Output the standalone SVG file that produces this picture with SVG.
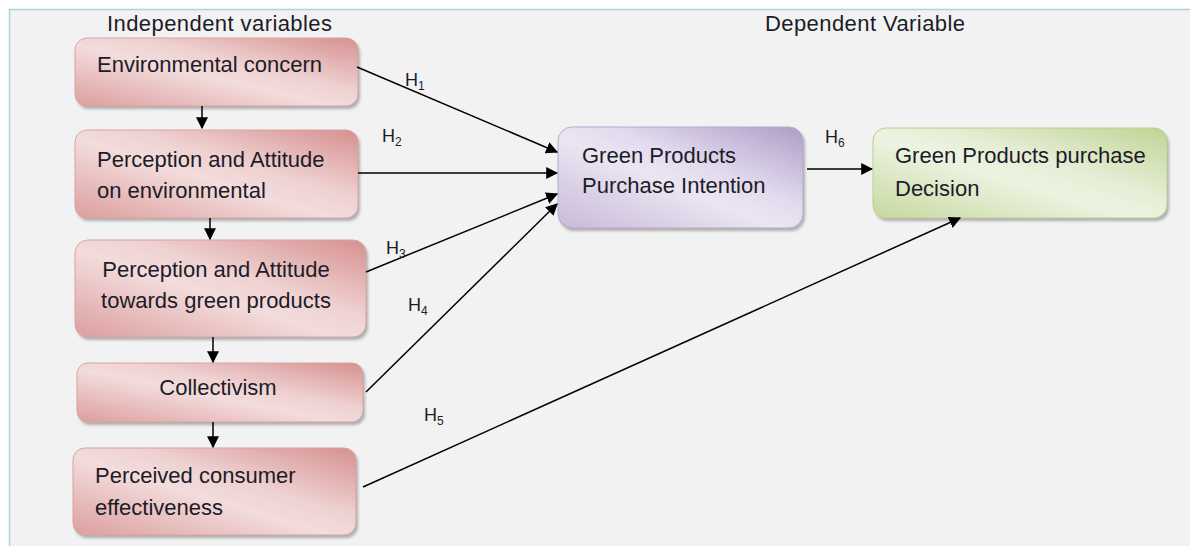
<svg xmlns="http://www.w3.org/2000/svg" width="1190" height="546" viewBox="0 0 1190 546">
<style>
text{font-family:"Liberation Sans",Arial,sans-serif;fill:#1c1c28}
.t{font-size:22px}
.h{font-size:18px}
.s{font-size:12px}
.c{stroke:#000;stroke-width:1.5;fill:none;marker-end:url(#ah)}
.pk{fill:url(#gp);stroke:#d9a3a3;stroke-width:1}
.pu{fill:url(#gv);stroke:#b9a9cc;stroke-width:1}
.gr{fill:url(#gg);stroke:#bccf92;stroke-width:1}
.sh{fill:#000;opacity:.28;filter:url(#bl)}
</style>
<defs>
<marker id="ah" viewBox="0 0 10 10" refX="9" refY="5" markerWidth="8" markerHeight="8" markerUnits="strokeWidth" orient="auto">
<path d="M0,0 L10,5 L0,10 z" fill="#000"/>
</marker>
<filter id="bl" x="-10%" y="-20%" width="120%" height="140%"><feGaussianBlur stdDeviation="1.6"/></filter>
<linearGradient id="gp" x1="0" y1="1" x2="1" y2="0">
<stop offset="0" stop-color="#dc9e9e"/>
<stop offset="0.45" stop-color="#f3dcdc"/>
<stop offset="0.6" stop-color="#efd2d2"/>
<stop offset="1" stop-color="#d6908f"/>
</linearGradient>
<linearGradient id="gv" x1="0" y1="1" x2="1" y2="0">
<stop offset="0" stop-color="#c8bad9"/>
<stop offset="0.45" stop-color="#ebe5f2"/>
<stop offset="0.6" stop-color="#e3dbee"/>
<stop offset="1" stop-color="#ad9cc6"/>
</linearGradient>
<linearGradient id="gg" x1="0" y1="1" x2="1" y2="0">
<stop offset="0" stop-color="#c6d89f"/>
<stop offset="0.45" stop-color="#edf3e1"/>
<stop offset="0.6" stop-color="#e6eed6"/>
<stop offset="1" stop-color="#c0d495"/>
</linearGradient>
</defs>
<rect x="0" y="0" width="1190" height="546" fill="#ffffff"/>
<rect x="9.5" y="9.5" width="1190" height="546" fill="#f2f2f2" stroke="#a8d4df" stroke-width="1.5"/>
<text class="t" x="107" y="31" textLength="225">Independent variables</text>
<text class="t" x="765" y="31" textLength="200">Dependent Variable</text>

<g id="n1">
<rect class="sh" x="77" y="41" width="283" height="68" rx="12"/>
<rect class="pk" x="75" y="38" width="283" height="68" rx="12"/>
<text class="t" x="97" y="72">Environmental concern</text>
</g>
<g id="n2">
<rect class="sh" x="77" y="133" width="283" height="88" rx="12"/>
<rect class="pk" x="75" y="130" width="283" height="88" rx="12"/>
<text class="t" x="97" y="167">Perception and Attitude</text>
<text class="t" x="97" y="198">on environmental</text>
</g>
<g id="n3">
<rect class="sh" x="77" y="243" width="291" height="97" rx="13"/>
<rect class="pk" x="75" y="240" width="291" height="97" rx="13"/>
<text class="t" x="216" y="277" text-anchor="middle">Perception and Attitude</text>
<text class="t" x="216" y="308" text-anchor="middle">towards green products</text>
</g>
<g id="n4">
<rect class="sh" x="79" y="366" width="286" height="59" rx="11"/>
<rect class="pk" x="77" y="363" width="286" height="59" rx="11"/>
<text class="t" x="218" y="395" text-anchor="middle">Collectivism</text>
</g>
<g id="n5">
<rect class="sh" x="75" y="451" width="283" height="87" rx="12"/>
<rect class="pk" x="73" y="448" width="283" height="87" rx="12"/>
<text class="t" x="95" y="483">Perceived consumer</text>
<text class="t" x="95" y="515">effectiveness</text>
</g>
<g id="n6">
<rect class="sh" x="560" y="130" width="245" height="101" rx="14"/>
<rect class="pu" x="558" y="127" width="245" height="101" rx="14"/>
<text class="t" x="582" y="163">Green Products</text>
<text class="t" x="582" y="193">Purchase Intention</text>
</g>
<g id="n7">
<rect class="sh" x="875" y="131" width="294" height="90" rx="13"/>
<rect class="gr" x="873" y="128" width="294" height="90" rx="13"/>
<text class="t" x="895" y="163">Green Products purchase</text>
<text class="t" x="895" y="196">Decision</text>
</g>

<g id="connectors">
<line class="c" x1="202" y1="106" x2="202" y2="128"/>
<line class="c" x1="210" y1="218" x2="210" y2="239"/>
<line class="c" x1="213" y1="337" x2="213" y2="362"/>
<line class="c" x1="213" y1="422" x2="213" y2="447"/>
<line class="c" x1="357" y1="67" x2="557" y2="152"/>
<line class="c" x1="358" y1="173" x2="557" y2="173"/>
<line class="c" x1="366" y1="272" x2="557" y2="194"/>
<line class="c" x1="366" y1="392" x2="557" y2="204"/>
<line class="c" x1="363" y1="487" x2="960" y2="218"/>
<line class="c" x1="807" y1="169" x2="872" y2="169"/>
</g>
<g id="labels">
<text class="h" x="405" y="86">H<tspan class="s" dy="4">1</tspan></text>
<text class="h" x="382" y="142">H<tspan class="s" dy="4">2</tspan></text>
<text class="h" x="386" y="254">H<tspan class="s" dy="4">3</tspan></text>
<text class="h" x="408" y="311">H<tspan class="s" dy="4">4</tspan></text>
<text class="h" x="424" y="421">H<tspan class="s" dy="4">5</tspan></text>
<text class="h" x="825" y="143">H<tspan class="s" dy="4">6</tspan></text>
</g>
</svg>
